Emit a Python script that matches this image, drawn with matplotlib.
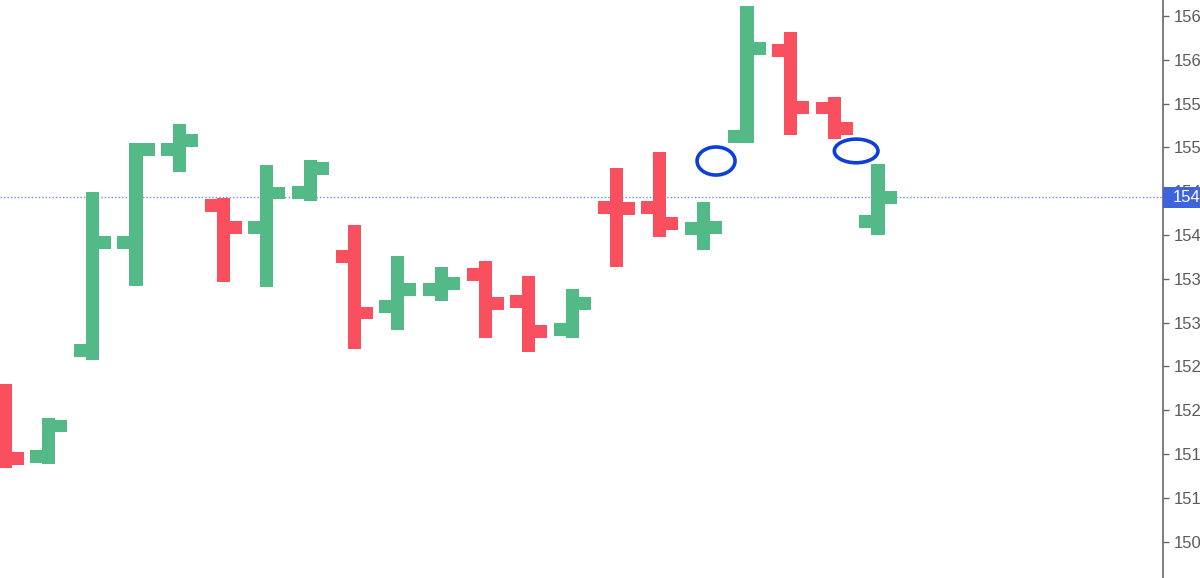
import matplotlib
matplotlib.use("Agg")
import matplotlib.pyplot as plt
from matplotlib.patches import Ellipse, Rectangle
from matplotlib.transforms import blended_transform_factory

# OHLC data (one bar per session)
opens  = [152.17, 151.47, 152.68, 153.92, 154.98, 154.34, 154.09, 154.49, 153.76, 153.18, 153.38,
          153.55, 153.24, 152.92, 154.31, 154.31, 154.08, 155.12, 156.11, 155.45, 154.15]
highs  = [152.30, 151.91, 154.49, 155.05, 155.27, 154.42, 154.80, 154.86, 154.11, 153.76, 153.63,
          153.70, 153.53, 153.38, 154.76, 154.95, 154.38, 156.61, 156.32, 155.58, 154.81]
lows   = [151.34, 151.39, 152.57, 153.42, 154.72, 153.46, 153.41, 154.39, 152.70, 152.92, 153.25,
          152.82, 152.66, 152.82, 153.63, 153.98, 153.83, 155.05, 155.14, 155.10, 154.00]
closes = [151.45, 151.82, 153.91, 154.98, 155.08, 154.09, 154.48, 154.76, 153.11, 153.38, 153.45,
          153.22, 152.90, 153.22, 154.30, 154.13, 154.09, 156.13, 155.46, 155.22, 154.43]
last_price = 154.43
y_ticks = [150.5, 151.0, 151.5, 152.0, 152.5, 153.0, 153.5, 154.0, 154.5, 155.0, 155.5, 156.0, 156.5]
# hand-drawn marks (x index, price, width, height)
marks = [(16.29, 154.845, 0.87, 0.32), (19.50, 154.96, 1.00, 0.27)]

UP = "#53B987"
DOWN = "#FA4F5E"

plt.rcParams["font.family"] = ["Liberation Sans", "DejaVu Sans"]

fig = plt.figure(figsize=(12, 5.78), dpi=100)
ax = fig.add_axes([0, 0, 1163 / 1200, 1])

body_w = 0.30
tick_len = 0.275
tick_h = 0.148

for i, (o, h, l, c) in enumerate(zip(opens, highs, lows, closes)):
    col = UP if c >= o else DOWN
    ax.bar(i, h - l, bottom=l, width=body_w, color=col, linewidth=0)
    ax.bar(i - body_w / 2 - tick_len / 2, tick_h, bottom=o - tick_h / 2, width=tick_len,
           color=col, linewidth=0)
    ax.bar(i + body_w / 2 + tick_len / 2, tick_h, bottom=c - tick_h / 2, width=tick_len,
           color=col, linewidth=0)

ax.axhline(last_price, color="#6F8FE6", lw=1.0, ls=(0, (1, 1.5)), zorder=0.5)

for (mx, my, mw, mh) in marks:
    ax.add_patch(Ellipse((mx, my), mw, mh, fill=False, edgecolor="#0B3FD6", lw=2.6,
                         clip_on=False, zorder=6))

ax.set_xlim(-0.115, 26.53)
ax.set_ylim(150.085, 156.683)

for s in ["left", "top", "bottom"]:
    ax.spines[s].set_visible(False)
ax.spines["right"].set_color("#666666")
ax.spines["right"].set_linewidth(1.2)
ax.set_xticks([])
ax.yaxis.tick_right()
ax.set_yticks(y_ticks)
ax.set_yticklabels([f"{v:.2f}" for v in y_ticks])
ax.tick_params(axis="y", length=4, width=1, color="#666666", labelcolor="#5a5a5a",
               labelsize=12, pad=3.8)

# last price label box on the axis
trans = blended_transform_factory(ax.transAxes, ax.transData)
box_h = 0.24
ax.add_patch(Rectangle((1.0, last_price - box_h / 2), 0.05, box_h, transform=trans,
                       facecolor="#3D63DD", edgecolor="none", clip_on=False, zorder=9))
ax.annotate(f"{last_price:.2f}", xy=(1, last_price), xycoords=("axes fraction", "data"),
            xytext=(6.8, 0), textcoords="offset points", va="center", ha="left",
            color="white", fontsize=12, zorder=10, annotation_clip=False)

fig.savefig("out.png", dpi=100)
